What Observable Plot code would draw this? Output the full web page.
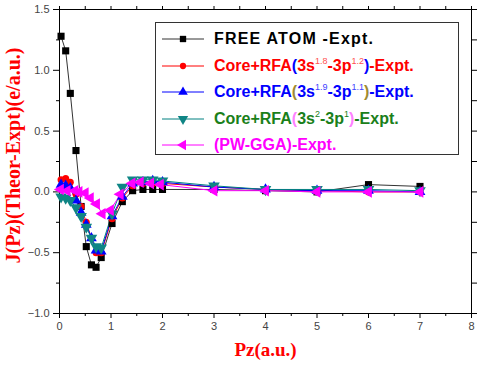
<!DOCTYPE html>
<html><head><meta charset="utf-8">
<script src="https://cdn.jsdelivr.net/npm/d3@7"></script>
<script src="https://cdn.jsdelivr.net/npm/@observablehq/plot@0.6"></script>
<style>
body{margin:0;background:#fff;}
#wrap{position:relative;width:480px;height:366px;overflow:hidden;}
#legend{position:absolute;left:155px;top:22px;width:302px;height:131px;border:1px solid #333;background:#fff;
 font-family:"Liberation Sans",Arial,sans-serif;font-weight:bold;font-size:16px;}
.row{position:absolute;left:6px;height:22px;display:flex;align-items:center;white-space:nowrap;}
.row svg{margin-right:8px;}
.row sup{font-size:9px;font-weight:normal;vertical-align:7px;line-height:0;}
</style></head><body><div id="wrap"></div>
<script>
// Pz values (a.u.)
const pz = [0.03,0.12,0.21,0.32,0.42,0.52,0.62,0.71,0.81,1.02,1.22,1.42,1.62,1.81,2,3,4,5,6,7];
const pzPW = [0.02,0.15,0.3,0.38,0.5,0.6,0.72,0.83,0.99,1.18,1.41,1.57,1.77,1.96,3,4,5,6,7];
// J(Pz) Theor - Expt
const freeAtom = [1.28,1.16,0.81,0.34,-0.12,-0.45,-0.60,-0.62,-0.54,-0.26,-0.08,0.01,0.02,0.02,0.02,0.02,0.01,0.0,0.06,0.045];
const rfa18 = [0.10,0.11,0.08,-0.02,-0.12,-0.25,-0.38,-0.50,-0.50,-0.22,-0.05,0.05,0.07,0.07,0.07,0.04,0.02,0.01,0.0,0.0];
const rfa19 = [0.06,0.05,0.03,-0.07,-0.17,-0.27,-0.38,-0.48,-0.49,-0.20,-0.04,0.07,0.08,0.09,0.08,0.04,0.02,0.01,0.01,0.0];
const rfa2 = [-0.04,-0.05,-0.07,-0.13,-0.20,-0.29,-0.38,-0.45,-0.46,-0.18,0.04,0.10,0.10,0.10,0.09,0.05,0.02,0.02,0.02,0.01];
const pwgga = [0.02,0.01,0.01,0.0,-0.01,-0.05,-0.10,-0.18,-0.15,-0.02,0.07,0.08,0.07,0.06,0.01,0.01,0.0,0.0,0.0];
const xMajor = [0,1,2,3,4,5,6,7,8];
const xMinor = [0.5,1.5,2.5,3.5,4.5,5.5,6.5,7.5];
const yMajor = [-1,-0.5,0,0.5,1,1.5];
const yMinor = [-0.75,-0.25,0.25,0.75,1.25];
const xLabel = "Pz(a.u.)";
const yLabel = "J(Pz)(Theor-Expt)(e/a.u.)";

const series = [
  {name:"free", x:pz, y:freeAtom, line:"#333", fill:"#000", symbol:"square", rotate:0, r:4},
  {name:"rfa18", x:pz, y:rfa18, line:"#ff0000", fill:"#ff0000", symbol:"circle", rotate:0, r:3.5},
  {name:"rfa19", x:pz, y:rfa19, line:"#0000ff", fill:"#0000ff", symbol:"triangle", rotate:0, r:4},
  {name:"rfa2", x:pz, y:rfa2, line:"#008080", fill:"#0f8585", symbol:"triangle", rotate:180, r:4.3},
  {name:"pw", x:pzPW, y:pwgga, line:"#ff00ff", fill:"#ff00ff", symbol:"triangle", rotate:-90, r:4.3}
];

const marks = [];
for (const s of series) {
  const data = s.x.map((x,i)=>({x, y:s.y[i]}));
  marks.push(Plot.line(data,{x:"x",y:"y",stroke:s.line,strokeWidth:1}));
}
for (const s of series) {
  const data = s.x.map((x,i)=>({x, y:s.y[i]}));
  marks.push(Plot.dot(data,{x:"x",y:"y",fill:s.fill,stroke:"none",symbol:s.symbol,r:s.r,rotate:s.rotate}));
}

const chart = Plot.plot({
  width:480, height:366,
  marginLeft:59, marginRight:9, marginTop:9, marginBottom:53,
  x:{domain:[0,8]}, y:{domain:[-1,1.5]},
  style:{fontFamily:"'Liberation Sans',Arial,sans-serif", fontSize:"11px", color:"#000", background:"#fff"},
  marks:[
    Plot.axisX({ticks:xMajor, tickSize:5, tickPadding:4, tickFormat:"d", label:null, fill:"#444", stroke:"#000"}),
    Plot.axisX({ticks:xMinor, tickSize:3, tickFormat:()=>"", label:null, stroke:"#000"}),
    Plot.axisX({anchor:"top", ticks:xMajor.concat(xMinor), tickSize:4, tickFormat:()=>"", label:null, stroke:"#000"}),
    Plot.axisY({ticks:yMajor, tickSize:6, tickPadding:4, tickFormat:d3.format(".1f"), label:null, fill:"#444", stroke:"#000"}),
    Plot.axisY({ticks:yMinor, tickSize:3, tickFormat:()=>"", label:null, stroke:"#000"}),
    Plot.axisY({anchor:"right", ticks:yMajor.concat(yMinor), tickSize:5, tickFormat:()=>"", label:null, stroke:"#000"}),
    Plot.frame({stroke:"#000"}),
    ...marks,
    Plot.text([xLabel],{frameAnchor:"bottom", text:d=>d, dy:42, fill:"#ff0000", fontWeight:"bold", fontFamily:"'Liberation Serif','Times New Roman',serif", fontSize:19}),
    Plot.text([yLabel],{frameAnchor:"left", textAnchor:"middle", lineAnchor:"middle", text:d=>d, dx:-46, dy:-6, rotate:-90, fill:"#ff0000", fontWeight:"bold", fontFamily:"'Liberation Serif','Times New Roman',serif", fontSize:20})
  ]
});
const wrap = document.getElementById("wrap");
wrap.appendChild(chart);

// Legend
const legendRows = [
  {s:series[0], html:'<span style="color:#000;letter-spacing:1.2px">FREE ATOM -Expt.</span>'},
  {s:series[1], html:'<span style="color:#ff0000">Core+RFA<span style="color:#0000ff">(</span>3s<sup style="color:#ff5050">1.8</sup>-3p<sup style="color:#ff5050">1.2</sup><span style="color:#0000ff">)</span>-Expt.</span>'},
  {s:series[2], html:'<span style="color:#0000ff">Core+RFA<span style="color:#a08a30">(</span>3s<sup style="color:#4040ff">1.9</sup>-3p<sup style="color:#4040ff">1.1</sup><span style="color:#a08a30">)</span>-Expt.</span>'},
  {s:series[3], html:'<span style="color:#1a801a">Core+RFA<span style="color:#ff80ff">(</span>3s<sup style="color:#1a801a">2</sup>-3p<sup style="color:#1a801a">1</sup><span style="color:#ff80ff">)</span>-Expt.</span>'},
  {s:series[4], html:'<span style="color:#ff00ff">(PW-GGA)-Expt.</span>'}
];
const legend = document.createElement("div");
legend.id = "legend";
legendRows.forEach((row,i)=>{
  const div = document.createElement("div");
  div.className = "row";
  div.style.top = (5 + i*26.5) + "px";
  const svg = d3.create("svg").attr("width",44).attr("height",16);
  svg.append("line").attr("x1",0).attr("x2",42).attr("y1",8).attr("y2",8).attr("stroke",row.s.line).attr("stroke-width",1);
  const sym = row.s.symbol==="square"?d3.symbolSquare:row.s.symbol==="circle"?d3.symbolCircle:d3.symbolTriangle;
  svg.append("path").attr("d",d3.symbol(sym, Math.PI*row.s.r*row.s.r*0.8)())
     .attr("transform",`translate(21,8) rotate(${row.s.rotate})`).attr("fill",row.s.fill);
  div.appendChild(svg.node());
  const t = document.createElement("span");
  t.innerHTML = row.html;
  div.appendChild(t);
  legend.appendChild(div);
});
wrap.appendChild(legend);
</script>
</body></html>
